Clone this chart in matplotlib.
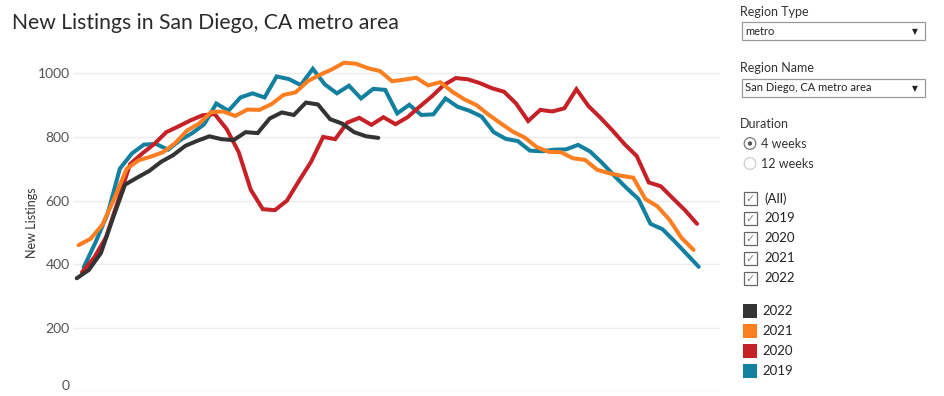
import numpy as np
import matplotlib
matplotlib.use("Agg")
import matplotlib.pyplot as plt
from matplotlib.patches import Rectangle, Circle
from matplotlib.transforms import IdentityTransform

plt.rcParams['font.family'] = ['Lato', 'DejaVu Sans']

# ---- data (weekly new listings, x = day of year of week end) ----
start_2019, start_2020, start_2021, start_2022 = 6, 5, 3, 2
v2019 = [390, 470, 560, 700, 748, 776, 778, 760, 790, 812, 840, 905, 882, 924, 937, 924,
         990, 982, 963, 1014, 965, 937, 961, 921, 951, 948, 874, 901, 869, 871, 921, 895,
         882, 864, 815, 794, 787, 757, 755, 760, 761, 775, 754, 718, 678, 640, 605, 527,
         510, 472, 432, 392]
v2020 = [375, 420, 485, 600, 715, 748, 778, 815, 833, 852, 868, 872, 825, 752, 634, 573,
         570, 600, 662, 722, 800, 793, 845, 860, 838, 862, 840, 862, 895, 927, 963, 985,
         981, 969, 953, 942, 905, 850, 885, 880, 890, 950, 897, 860, 820, 777, 740, 657,
         645, 607, 570, 527]
v2021 = [460, 480, 525, 610, 700, 727, 738, 752, 780, 820, 842, 878, 880, 866, 886, 885,
         903, 932, 940, 975, 995, 1012, 1033, 1030, 1016, 1007, 975, 980, 986, 962, 972, 942,
         918, 900, 870, 843, 817, 798, 768, 753, 752, 733, 728, 697, 686, 678, 672, 605,
         582, 540, 483, 445]
v2022 = [356, 382, 435, 545, 650, 672, 693, 722, 743, 772, 788, 802, 793, 790, 815, 812,
         858, 877, 869, 908, 902, 856, 842, 815, 802, 797]

years = ['2022', '2021', '2020', '2019']
colors = {'2022': '#333333', '2021': '#fb7e21', '2020': '#c72128', '2019': '#13809f'}
yticks = [0, 200, 400, 600, 800, 1000]

W, H = 944, 396
fig = plt.figure(figsize=(W / 100, H / 100), dpi=100)

def fx(x):
    return x / W

def fy(y):
    return 1 - y / H

# axes: x day 0 at px 73.3, 1.723 px/day ; y 1000 at px 73.3, 0 at 391.6
ax_left, ax_right = 73.3, 720.0
ymax = 1060
y0_px = 391.6
ytop_px = y0_px - ymax * 0.31832
ax = fig.add_axes([fx(ax_left), fy(y0_px), (ax_right - ax_left) / W, (y0_px - ytop_px) / H])
ax.set_xlim(0, (ax_right - ax_left) / 1.723)
ax.set_ylim(0, ymax)

series = [('2019', start_2019, v2019), ('2020', start_2020, v2020),
          ('2021', start_2021, v2021), ('2022', start_2022, v2022)]
for name, s0, vals in series:
    x = s0 + 7 * np.arange(len(vals))
    ax.plot(x, vals, color=colors[name], lw=2.9, solid_joinstyle='miter',
            solid_capstyle='round', zorder=3)

for sp in ax.spines.values():
    sp.set_visible(False)
ax.set_xticks([])
ax.set_yticks(yticks)
ax.set_yticklabels([str(t) for t in yticks])
ax.tick_params(axis='y', length=0, pad=2.5, labelsize=10, labelcolor='#555555')
ax.grid(axis='y', color='#ececec', lw=1.0, zorder=0)
ax.set_axisbelow(True)
lbls = ax.get_yticklabels()
lbls[0].set_verticalalignment('bottom')
ax.set_ylabel('New Listings', fontsize=9, color='#333333', labelpad=0)

# title
fig.text(fx(12), fy(23), 'New Listings in San Diego, CA metro area', fontsize=15.2,
         color='#2a2a2a', va='center', ha='left')

# ---- right panel ----
ident = IdentityTransform()

def pcircle(x, y, r, **kw):
    fig.add_artist(Circle((x, H - y), r, transform=ident, **kw))

tc = '#333333'
fig.text(fx(740), fy(12), 'Region Type', fontsize=9, color=tc, va='center')
fig.text(fx(740), fy(68), 'Region Name', fontsize=9, color=tc, va='center')
for (y1, y2, txt) in [(22.3, 40.3, 'metro'), (79, 96.7, 'San Diego, CA metro area')]:
    fig.add_artist(Rectangle((fx(741.5), fy(y2)), (925 - 741.5) / W, (y2 - y1) / H,
                             transform=fig.transFigure, fill=False, ec='#9a9a9a', lw=0.9))
    fig.text(fx(745), fy((y1 + y2) / 2), txt, fontsize=8, color='#222222', va='center')
    fig.text(fx(915), fy((y1 + y2) / 2 + 0.5), '\u25BC', fontsize=5.5, color='#222222',
             va='center', ha='center', family=['DejaVu Sans'])

fig.text(fx(740), fy(124), 'Duration', fontsize=9, color=tc, va='center')
pcircle(750, 143.5, 5.8, fill=False, ec='#777777', lw=0.9)
pcircle(750, 143.5, 2.2, fc='#555555', ec='none')
pcircle(750, 163.5, 5.8, fill=False, ec='#cccccc', lw=0.9)
fig.text(fx(761), fy(143.5), '4 weeks', fontsize=9, color=tc, va='center')
fig.text(fx(761), fy(163.5), '12 weeks', fontsize=9, color=tc, va='center')

for i, txt in enumerate(['(All)', '2019', '2020', '2021', '2022']):
    yc = 198.5 + 19.9 * i
    fig.add_artist(Rectangle((fx(744), fy(yc + 6.5)), 13 / W, 13 / H,
                             transform=fig.transFigure, fill=False, ec='#666666', lw=0.9))
    fig.text(fx(750.5), fy(yc + 0.5), '\u2713', fontsize=8, color='#888888',
             va='center', ha='center', family=['DejaVu Sans'])
    fig.text(fx(764), fy(yc), txt, fontsize=9.5, color='#222222', va='center')

for i, name in enumerate(years):
    yc = 310.7 + 20 * i
    fig.add_artist(Rectangle((fx(743), fy(yc + 7)), 14 / W, 14 / H,
                             transform=fig.transFigure, fc=colors[name], ec='none'))
    fig.text(fx(762), fy(yc), name, fontsize=9.5, color='#222222', va='center')

fig.savefig('out.png', dpi=100)
